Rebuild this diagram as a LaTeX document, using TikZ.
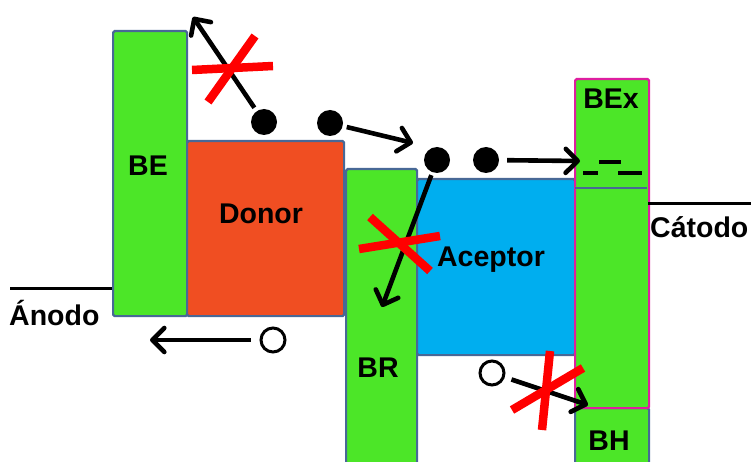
\documentclass[tikz,border=0pt]{standalone}
\usepackage{fontspec}
\setmainfont{Liberation Sans}
\usetikzlibrary{arrows.meta}
\definecolor{bandgreen}{RGB}{76,230,40}
\definecolor{donorred}{RGB}{240,78,34}
\definecolor{aceptorblue}{RGB}{0,174,239}
\definecolor{edgeblue}{RGB}{72,104,150}
\definecolor{exmagenta}{RGB}{222,30,160}
\tikzset{
  band/.style={draw=edgeblue, line width=2.2, rounded corners=1.5, inner sep=0, anchor=north west},
  lbl/.style={font=\bfseries\fontsize{28.5}{28.5}\selectfont, inner sep=0},
  electron/.style={circle, fill=black, minimum size=26, inner sep=0},
  hole/.style={circle, draw=black, line width=3, fill=white, minimum size=24, inner sep=0},
  move/.style={line width=4.6, -{Straight Barb[length=12, width=24, round]}},
  cross/.style={red, line width=8.5},
  level/.style={line width=3.4},
  contact/.style={line width=3}
}
\begin{document}
\begin{tikzpicture}[x=1pt, y=-1pt]
\useasboundingbox (0,0) rectangle (754,462);

% energy bands
\node[band, fill=bandgreen, minimum width=74, minimum height=285] (BE) at (112,30) {};
\node[band, fill=donorred, minimum width=157, minimum height=175] (donor) at (186,140) {};
\node[band, fill=bandgreen, minimum width=71, minimum height=310] (BR) at (345,168) {};
\node[band, fill=aceptorblue, minimum width=158, minimum height=176] (aceptor) at (416,178) {};
\node[band, fill=bandgreen, minimum width=74, minimum height=70] (BH) at (574,407) {};
\node[band, draw=exmagenta, fill=bandgreen, minimum width=74, minimum height=329] (BEx) at (574,78) {};
\coordinate (exL) at (575,188);
\coordinate (exR) at (647,188);
\draw[edgeblue, line width=2.2] (exL) -- (exR);

% band labels
\node[lbl] (tBE) at (148,166) {BE};
\node[lbl] (tdonor) at (261,214) {Donor};
\node[lbl] (tBR) at (378,368) {BR};
\node[lbl] (taceptor) at (491,260) {Aceptor};
\node[lbl] (tBEx) at (611,99) {BEx};
\node[lbl] (tBH) at (609,441) {BH};

% exciton levels
\coordinate (d1a) at (599,162); \coordinate (d1b) at (621,162);
\coordinate (d2a) at (583,173); \coordinate (d2b) at (598,173);
\coordinate (d3a) at (618,173); \coordinate (d3b) at (642,173);
\draw[level] (d1a) -- (d1b);
\draw[level] (d2a) -- (d2b);
\draw[level] (d3a) -- (d3b);

% electrodes
\coordinate (anL) at (10,288);
\coordinate (anR) at (112,288);
\draw[contact] (anL) -- (anR);
\node[lbl, anchor=west] (anodo) at (9,313) {Ánodo};
\coordinate (caL) at (648,204);
\coordinate (caR) at (751,204);
\draw[contact] (caL) -- (caR);
\node[lbl, anchor=west] (catodo) at (650,227) {Cátodo};

% carriers
\node[electron] (e1) at (264,122) {};
\node[electron] (e2) at (330,123) {};
\node[electron] (e3) at (437,160) {};
\node[electron] (e4) at (486,160) {};
\node[hole] (h1) at (273,340) {};
\node[hole] (h2) at (492,373) {};

% transfer paths
\coordinate (t1) at (193,17);
\coordinate (t2) at (413,143);
\coordinate (t3) at (382,307);
\coordinate (t4) at (580,161);
\coordinate (t5) at (150,340);
\coordinate (t6) at (588,405);
\draw[move, shorten <=4] (e1) -- (t1);
\draw[move, shorten <=4] (e2) -- (t2);
\draw[move, shorten <=3] (e3) -- (t3);
\draw[move, shorten <=8] (e4) -- (t4);
\draw[move, shorten <=9] (h1) -- (t5);
\draw[move, shorten <=7] (h2) -- (t6);

% blocked paths
\coordinate (x1a) at (192,70); \coordinate (x1b) at (273,66);
\coordinate (x1c) at (208,102); \coordinate (x1d) at (255,36);
\draw[cross] (x1a) -- (x1b);
\draw[cross] (x1c) -- (x1d);
\coordinate (x2a) at (359,249); \coordinate (x2b) at (440,236);
\coordinate (x2c) at (370,217); \coordinate (x2d) at (430,271);
\draw[cross] (x2a) -- (x2b);
\draw[cross] (x2c) -- (x2d);
\coordinate (x3a) at (512,410); \coordinate (x3b) at (583,368);
\coordinate (x3c) at (550,351); \coordinate (x3d) at (542,430);
\draw[cross] (x3a) -- (x3b);
\draw[cross] (x3c) -- (x3d);
\end{tikzpicture}
\end{document}
